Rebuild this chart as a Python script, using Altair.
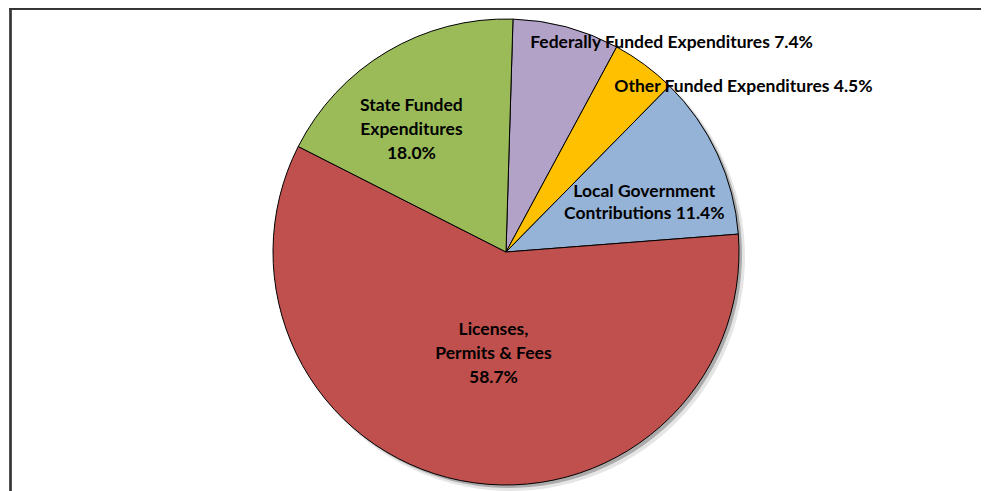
import altair as alt
import pandas as pd
import math

categories = [
    "Federally Funded Expenditures",
    "Other Funded Expenditures",
    "Local Government Contributions",
    "Licenses, Permits & Fees",
    "State Funded Expenditures",
]
values = [7.4, 4.5, 11.4, 58.7, 18.0]
labels = [
    "Federally Funded Expenditures 7.4%",
    "Other Funded Expenditures 4.5%",
    "Local Government\nContributions 11.4%",
    "Licenses,\nPermits & Fees\n58.7%",
    "State Funded\nExpenditures\n18.0%",
]
colors = ["#B3A2C7", "#FFC000", "#95B3D7", "#C0504D", "#9BBB59"]

df = pd.DataFrame({
    "category": categories,
    "value": values,
    "label": labels,
    "order": list(range(len(categories))),
})

total = sum(values)
start = 0.03
theta_scale = alt.Scale(domain=[0, total], range=[start, start + 2 * math.pi])
color_scale = alt.Scale(domain=categories, range=colors)

CX, CY, R = 498, 244, 233

base = alt.Chart(df)

frame_left = base.mark_rule(stroke="#333333", strokeWidth=1.6).encode(
    x=alt.value(2.5), y=alt.value(0), y2=alt.value(900)
)
frame_top = base.mark_rule(stroke="#333333", strokeWidth=1.6).encode(
    y=alt.value(0.8), x=alt.value(1.7), x2=alt.value(1200)
)

shadow1 = base.mark_arc(radius=R + 1, fill="#000000", opacity=0.10).encode(
    theta=alt.Theta("value:Q", scale=theta_scale, stack=True),
    order=alt.Order("order:Q"),
    x=alt.value(CX + 5), y=alt.value(CY + 5),
)
shadow2 = base.mark_arc(radius=R, fill="#000000", opacity=0.25).encode(
    theta=alt.Theta("value:Q", scale=theta_scale, stack=True),
    order=alt.Order("order:Q"),
    x=alt.value(CX + 3), y=alt.value(CY + 3),
)

pie = base.mark_arc(radius=R, stroke="#000000", strokeWidth=1).encode(
    theta=alt.Theta("value:Q", scale=theta_scale, stack=True),
    color=alt.Color("category:N", scale=color_scale, legend=None),
    order=alt.Order("order:Q"),
    x=alt.value(CX), y=alt.value(CY),
)

label_style = [
    # radius, dx, dy, lineHeight
    (245, 102, 27, 24),
    (275, 74, 55, 24),
    (147, 5, 1, 22),
    (100, 7, -21, 24),
    (154, -16, -15, 24),
]

text_layers = []
for cat, (r, dx, dy, lh) in zip(categories, label_style):
    t = (
        base.transform_window(cum="sum(value)", sort=[alt.SortField("order")])
        .transform_calculate(mid="datum.cum - datum.value / 2")
        .transform_filter(alt.datum.category == cat)
        .mark_text(
            radius=r, dx=dx, dy=dy, font="Lato", fontSize=17.5, fontWeight="bold",
            color="#000000", lineBreak="\n", lineHeight=lh, align="center",
            baseline="middle",
        )
        .encode(
            theta=alt.Theta("mid:Q", scale=theta_scale, stack=None),
            text="label:N",
            x=alt.value(CX), y=alt.value(CY + 1),
        )
    )
    text_layers.append(t)

chart = alt.layer(frame_left, frame_top, shadow1, shadow2, pie, *text_layers).properties(
    width=973, height=483, padding=0, autosize=alt.AutoSizeParams(type="none")
).configure_view(strokeOpacity=0, strokeWidth=0)

chart.save("out.html", embed_options={"renderer": "svg", "actions": False})
